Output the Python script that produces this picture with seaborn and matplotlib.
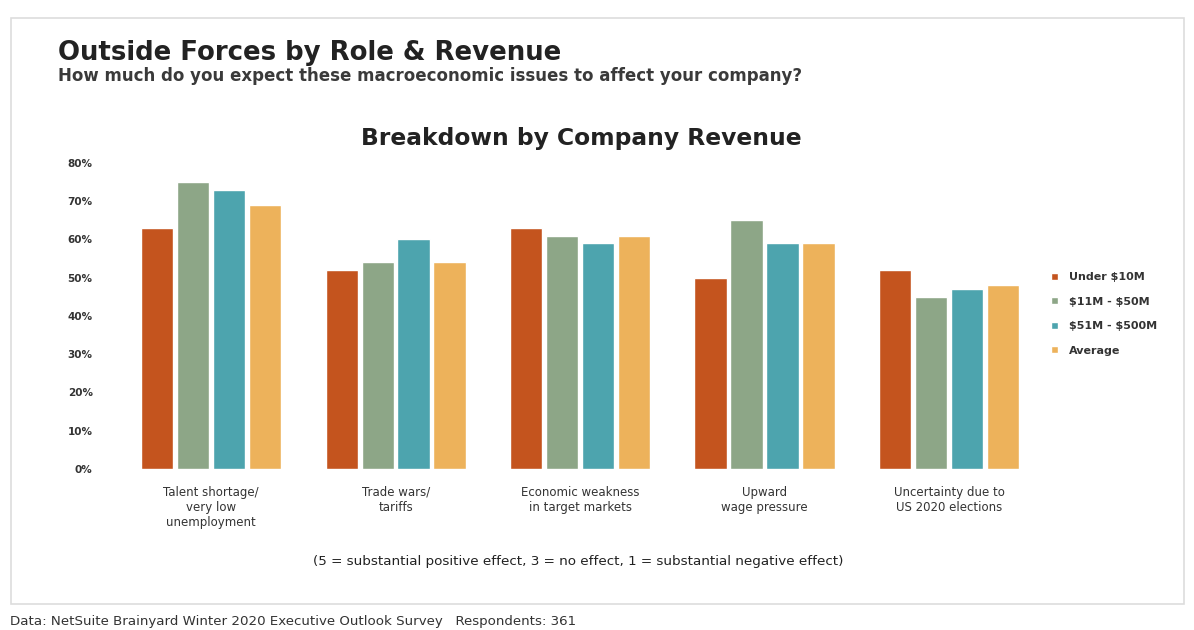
import matplotlib
matplotlib.use("Agg")
import matplotlib.pyplot as plt
from matplotlib.patches import Rectangle
import pandas as pd
import seaborn as sns

# Survey data: share of respondents (%) by company revenue band
categories = [
    "Talent shortage/\nvery low\nunemployment",
    "Trade wars/\ntariffs",
    "Economic weakness\nin target markets",
    "Upward\nwage pressure",
    "Uncertainty due to\nUS 2020 elections",
]
series_names = ["Under $10M", "$11M - $50M", "$51M - $500M", "Average"]
under_10m = [63, 52, 63, 50, 52]
m11_50 = [75, 54, 61, 65, 45]
m51_500 = [73, 60, 59, 59, 47]
average = [69, 54, 61, 59, 48]
y_ticks = [0, 10, 20, 30, 40, 50, 60, 70, 80]
y_tick_labels = [f"{t}%" for t in y_ticks]

colors = ["#C4541E", "#8DA687", "#4DA4AE", "#EDB25B"]

rows = []
for name, vals in zip(series_names, [under_10m, m11_50, m51_500, average]):
    for cat, v in zip(categories, vals):
        rows.append({"issue": cat, "band": name, "pct": v})
df = pd.DataFrame(rows)

sns.set_theme(style="white")
plt.rcParams["font.family"] = ["DejaVu Sans"]

fig = plt.figure(figsize=(11.94, 6.30), dpi=100)
fig.patch.set_facecolor("white")

# light framed panel behind everything
frame = Rectangle((0.009, 0.042), 0.983, 0.93, transform=fig.transFigure,
                  facecolor="white", edgecolor="#DDDDDD", linewidth=1.2,
                  zorder=-10)
fig.patches.append(frame)

ax = fig.add_axes([0.0997, 0.2556, 0.7723, 0.4857])
ax.patch.set_alpha(0)
sns.barplot(data=df, x="issue", y="pct", hue="band", order=categories,
            hue_order=series_names, palette=colors, width=0.78, gap=0.1,
            saturation=1, ax=ax, legend=True)

ax.set_ylim(0, 80)
ax.set_yticks(y_ticks)
ax.set_yticklabels(y_tick_labels, fontsize=7.5, color="#333333", fontweight="bold")
ax.set_xlabel("")
ax.set_ylabel("")
ax.tick_params(axis="x", length=0, pad=12, labelsize=8.5, labelcolor="#333333")
ax.tick_params(axis="y", length=0, pad=19)
for s in ax.spines.values():
    s.set_visible(False)

leg = ax.legend(loc="upper left", bbox_to_anchor=(1.0, 0.675), frameon=False,
                handlelength=0.6, handleheight=0.6, handletextpad=1.0,
                labelspacing=1.3, prop={"size": 8, "weight": "bold"})
for t in leg.get_texts():
    t.set_color("#333333")
    t.set_parse_math(False)

fig.text(0.0486, 0.905, "Outside Forces by Role & Revenue", fontsize=18.7,
         fontweight="bold", color="#222222", va="baseline")
fig.text(0.0486, 0.872, "How much do you expect these macroeconomic issues to affect your company?",
         fontsize=12, fontweight="bold", color="#3A3A3A", va="baseline")
fig.text(0.487, 0.77, "Breakdown by Company Revenue", fontsize=16.8,
         fontweight="bold", color="#222222", ha="center", va="baseline")
fig.text(0.484, 0.103,
         "(5 = substantial positive effect, 3 = no effect, 1 = substantial negative effect)",
         fontsize=9.7, color="#222222", ha="center", va="baseline")
fig.text(0.0084, 0.008,
         "Data: NetSuite Brainyard Winter 2020 Executive Outlook Survey   Respondents: 361",
         fontsize=9.6, color="#333333", va="baseline")

fig.savefig("out.png", dpi=100, facecolor="white")
